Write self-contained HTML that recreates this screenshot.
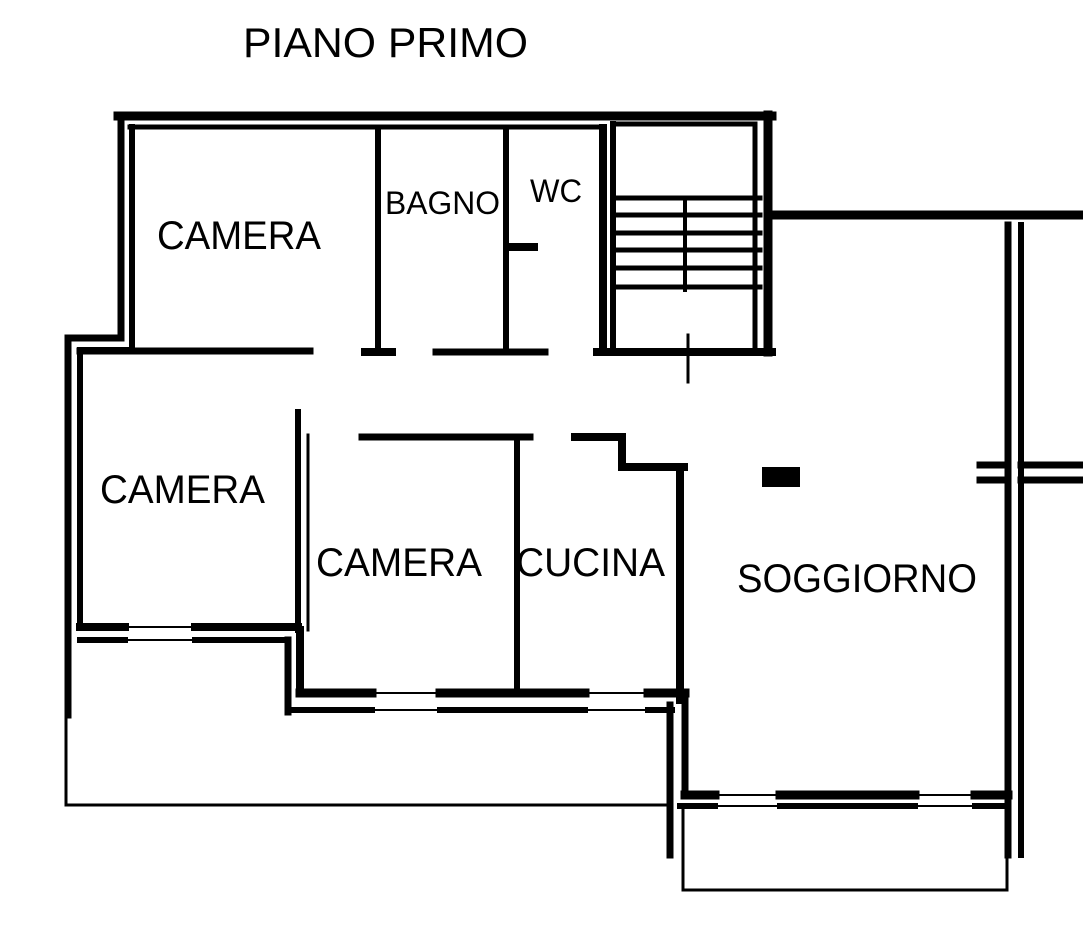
<!DOCTYPE html>
<html><head><style>body{margin:0;background:#fff}svg{display:block}</style></head><body>
<svg width="1083" height="939" viewBox="0 0 1083 939" xmlns="http://www.w3.org/2000/svg" font-family="Liberation Sans, sans-serif">
<g stroke="#000" fill="none" stroke-linecap="square">
<path d="M118 116 H772" stroke-width="9"/>
<path d="M130 127 H600" stroke-width="5"/>
<path d="M121 115 V338 H68 V715" stroke-width="7"/>
<path d="M132 127 V350 H80 V628" stroke-width="6"/>
<path d="M80 351 H310" stroke-width="7"/>
<path d="M378 128 V350" stroke-width="6"/>
<path d="M365 352 H392" stroke-width="8"/>
<path d="M506 128 V350" stroke-width="6"/>
<path d="M436 352 H545" stroke-width="7"/>
<path d="M512 247 H534" stroke-width="8"/>
<path d="M603 128 V352" stroke-width="8"/>
<path d="M613 124 H755 V350" stroke-width="5"/>
<path d="M613 124 V350" stroke-width="6"/>
<path d="M597 352 H772" stroke-width="8"/>
<path d="M768 115 V352" stroke-width="9"/>
<g stroke-width="5"><path d="M615 198 H760"/><path d="M615 215 H760"/><path d="M615 233 H760"/><path d="M615 250 H760"/><path d="M615 268 H760"/><path d="M615 287 H760"/></g>
<path d="M685 198 V290" stroke-width="4"/>
<path d="M688 335 V382" stroke-width="3"/>
<path d="M772 215 H1083" stroke-width="9"/>
<path d="M1008 225 V855" stroke-width="7"/>
<path d="M1021 225 V855" stroke-width="6"/>
<path d="M980 465 H1008 M1021 465 H1083" stroke-width="7"/>
<path d="M980 480 H1008 M1021 480 H1083" stroke-width="7"/>
<path d="M298 412 V630" stroke-width="6"/>
<path d="M308 435 V630" stroke-width="3"/>
<path d="M362 437 H530" stroke-width="7"/>
<path d="M517 437 V690" stroke-width="6"/>
<path d="M575 437 H622 V467 H684" stroke-width="8"/>
<path d="M680 467 V700" stroke-width="8"/>
<rect x="762" y="467" width="38" height="20" fill="#000" stroke="none"/>
<path d="M80 627 H125 M195 627 H298" stroke-width="8"/>
<path d="M80 640 H125 M195 640 H285" stroke-width="6"/>
<path d="M125 627 H195 M125 640 H195" stroke-width="2"/>
<path d="M288 640 V712" stroke-width="7"/>
<path d="M300 630 V692" stroke-width="8"/>
<path d="M300 693 H372 M440 693 H585 M648 693 H685" stroke-width="9"/>
<path d="M290 710 H372 M440 710 H585 M648 710 H672" stroke-width="6"/>
<path d="M372 693 H440 M372 710 H440 M585 693 H648 M585 710 H648" stroke-width="2"/>
<path d="M66 715 V805 H668" stroke-width="3"/>
<path d="M685 700 V795" stroke-width="7"/>
<path d="M670 705 V855" stroke-width="7"/>
<path d="M685 795 H715 M780 795 H915 M975 795 H1008" stroke-width="9"/>
<path d="M680 806 H715 M780 806 H915 M975 806 H1008" stroke-width="6"/>
<path d="M715 795 H780 M715 806 H780 M915 795 H975 M915 806 H975" stroke-width="2"/>
<path d="M683 808 V890 H1007 V808" stroke-width="3"/>
</g>
<g fill="#000" font-size="38">
<text x="243" y="57" textLength="285" lengthAdjust="spacingAndGlyphs" font-size="42">PIANO PRIMO</text>
<text x="157" y="249" textLength="164" lengthAdjust="spacingAndGlyphs" font-size="40">CAMERA</text>
<text x="385" y="214" font-size="32" textLength="115" lengthAdjust="spacingAndGlyphs">BAGNO</text>
<text x="530" y="202" font-size="32" textLength="52" lengthAdjust="spacingAndGlyphs">WC</text>
<text x="100" y="503" textLength="165" lengthAdjust="spacingAndGlyphs" font-size="40">CAMERA</text>
<text x="316" y="576" textLength="166" lengthAdjust="spacingAndGlyphs" font-size="40">CAMERA</text>
<text x="516" y="576" textLength="149" lengthAdjust="spacingAndGlyphs" font-size="40">CUCINA</text>
<text x="737" y="592" textLength="240" lengthAdjust="spacingAndGlyphs" font-size="40">SOGGIORNO</text>
</g>
</svg>
</body></html>
